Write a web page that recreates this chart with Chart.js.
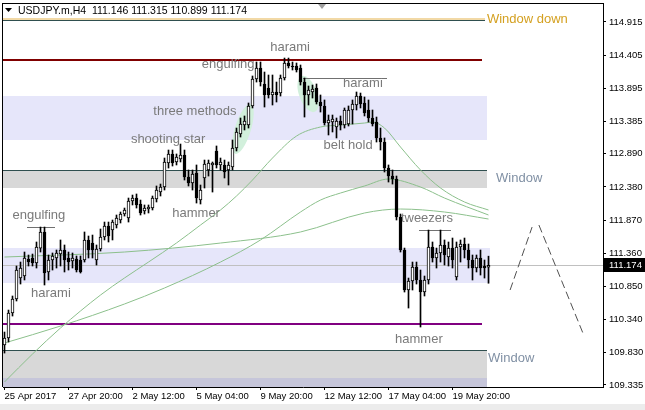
<!DOCTYPE html>
<html>
<head>
<meta charset="utf-8">
<script src="https://cdn.jsdelivr.net/npm/chart.js@4.4.0/dist/chart.umd.min.js"></script>
<style>
  html, body { margin: 0; padding: 0; background: #fff; }
  canvas { display: block; }
</style>
</head>
<body>
<canvas id="chart" width="645" height="410"></canvas>
<script>
// USDJPY.m H4 candles (bar 0 = first visible bar)
const opens = [109.949,110.057,110.441,110.657,110.979,111.010,111.271,111.287,111.210,111.440,
  111.687,111.072,111.256,111.287,111.348,111.410,111.287,111.241,111.271,111.256,
  111.256,111.564,111.517,111.256,111.425,111.610,111.779,111.717,111.794,111.871,
  111.963,111.902,112.163,112.209,112.117,112.009,112.040,112.055,112.194,112.301,
  112.378,112.747,112.886,112.763,112.809,112.870,112.532,112.440,112.594,112.178,
  112.517,112.640,112.717,112.932,112.717,112.717,112.640,112.686,112.978,113.193,
  113.331,113.331,113.624,114.039,114.208,113.962,113.900,113.793,113.839,113.823,
  114.054,114.285,114.238,114.238,114.208,113.992,113.793,113.839,113.900,113.685,
  113.624,113.362,113.377,113.301,113.393,113.331,113.347,113.562,113.639,113.777,
  113.670,113.562,113.439,113.377,113.132,113.070,112.670,112.547,112.501,111.917,
  111.410,110.795,110.933,111.148,110.949,110.764,110.949,111.456,111.287,111.364,
  111.487,111.302,111.440,110.995,111.456,111.502,111.410,111.256,111.133,111.287,
  111.164,111.146];
const highs = [110.149,110.487,110.703,111.164,111.225,111.379,111.333,111.348,111.533,111.763,
  111.763,111.333,111.364,111.410,111.564,111.487,111.379,111.364,111.318,111.318,
  111.687,111.625,111.640,111.487,111.733,111.840,111.840,111.871,111.948,111.994,
  112.055,112.209,112.255,112.271,112.178,112.102,112.102,112.240,112.394,112.424,
  112.824,112.947,112.947,112.886,113.039,112.947,112.640,112.640,112.717,112.409,
  112.793,112.793,112.763,113.009,112.824,112.793,112.763,113.101,113.285,113.439,
  113.470,113.670,114.085,114.300,114.300,114.146,114.100,114.100,113.992,114.100,
  114.361,114.361,114.300,114.285,114.254,114.054,113.931,113.946,113.962,113.793,
  113.716,113.485,113.485,113.439,113.470,113.593,113.624,113.716,113.839,113.823,
  113.762,113.716,113.562,113.454,113.285,113.132,112.717,112.640,112.547,111.963,
  111.440,110.979,111.225,111.225,111.102,111.010,111.717,111.533,111.440,111.717,
  111.564,111.533,111.594,111.533,111.564,111.594,111.502,111.333,111.333,111.410,
  111.256,111.315];
const lows = [109.826,109.995,110.395,110.626,110.887,110.949,111.164,111.164,111.133,111.379,
  110.872,110.949,111.102,111.133,111.164,111.072,111.102,111.133,111.072,111.056,
  111.225,111.287,111.287,111.179,111.394,111.564,111.533,111.564,111.748,111.825,
  111.932,111.840,112.102,112.055,111.948,111.963,111.979,112.025,112.148,112.240,
  112.332,112.670,112.701,112.717,112.763,112.486,112.394,112.332,112.132,112.117,
  112.363,112.547,112.301,112.670,112.640,112.517,112.409,112.640,112.932,113.147,
  113.255,113.285,113.593,113.992,113.931,113.608,113.746,113.639,113.685,113.777,
  114.023,114.208,114.177,114.146,113.946,113.454,113.639,113.746,113.654,113.531,
  113.331,113.178,113.224,113.132,113.255,113.285,113.316,113.347,113.562,113.593,
  113.470,113.377,113.316,113.070,112.947,112.609,112.455,112.424,111.871,111.379,
  110.764,110.518,110.795,110.887,110.226,110.703,110.887,111.225,111.133,111.225,
  111.179,111.164,111.133,110.949,111.225,111.287,111.133,110.949,111.072,111.025,
  110.979,110.899];
const closes = [110.057,110.441,110.657,111.102,111.133,111.287,111.225,111.210,111.456,111.687,
  111.056,111.256,111.318,111.364,111.410,111.256,111.225,111.287,111.102,111.072,
  111.564,111.410,111.410,111.425,111.610,111.779,111.625,111.840,111.902,111.963,
  112.025,112.163,112.209,112.102,111.979,112.055,112.071,112.209,112.332,112.378,
  112.763,112.886,112.747,112.839,112.870,112.532,112.440,112.578,112.209,112.332,
  112.732,112.747,112.747,112.717,112.763,112.609,112.717,112.978,113.224,113.347,
  113.393,113.624,114.039,114.208,113.992,113.793,113.793,113.839,113.793,114.054,
  114.285,114.238,114.223,114.177,113.992,113.793,113.869,113.885,113.685,113.624,
  113.362,113.408,113.424,113.393,113.331,113.562,113.562,113.654,113.777,113.654,
  113.516,113.439,113.347,113.132,113.070,112.670,112.547,112.501,111.917,111.410,
  110.795,110.933,111.148,110.949,110.764,110.949,111.456,111.287,111.364,111.487,
  111.333,111.440,111.256,111.456,111.502,111.410,111.256,111.133,111.287,111.133,
  111.133,111.174];

const symbolName = "USDJPY.m,H4";
const timeTickBars = [0, 16, 32, 48, 64, 80, 96, 112];
const timeLabels = ["25 Apr 2017", "27 Apr 20:00", "2 May 12:00", "5 May 04:00",
  "9 May 20:00", "12 May 12:00", "17 May 04:00", "19 May 20:00"];
const priceTicks = [114.915, 114.405, 113.895, 113.385, 112.890, 112.380,
  111.870, 111.360, 110.850, 110.340, 109.830, 109.335];

// moving averages, sampled at bar positions
const maFastBars = [0,7,14,24,30,36,43,49,54,58,62,67,73,79,84,90,92,95,99,104,109,115,121];
const maFastValues = [109.381,109.811,110.211,110.718,110.980,111.225,111.518,111.794,112.025,112.240,
  112.486,112.824,113.162,113.301,113.331,113.362,113.377,113.285,112.993,112.640,112.363,112.148,112.025];
const maMidBars = [0,14,30,40,54,64,74,79,84,90,96,104,110,121];
const maMidValues = [109.980,110.241,110.580,110.826,111.225,111.564,111.994,112.178,112.286,112.394,
  112.501,112.378,112.209,111.948];
const maSlowBars = [0,30,54,74,90,99,110,121];
const maSlowValues = [111.302,111.379,111.517,111.687,111.979,112.040,111.994,111.886];

// analysis objects
const zoneTops = [113.777, 112.640, 111.440, 109.872, 109.442];
const zoneBottoms = [113.101, 112.363, 110.902, 109.000, 109.000];
const zoneEndBars = [120.6, 120.6, 121.4, 120.6, 120.6];
const windowLevels = [112.640, 109.872];
const resistLevel = 114.331;
const supportLevel = 110.272;
const windowDownLevel = 114.961;
const segPrices = [114.054, 111.717, 111.763];
const segStartBars = [74.6, 103.6, 5.6];
const segEndBars = [95.6, 111.6, 12.6];
const ovalBars = [59.6, 75.9];
const ovalPrices = [113.270, 113.808];
const tentLeftBars = [126.4, 131.9];
const tentLeftPrices = [110.795, 111.763];
const tentRightBars = [133.6, 144.6];
const tentRightPrices = [111.794, 110.134];
const noteTexts = ["harami", "engulfing", "harami", "three methods", "shooting star", "belt hold",
  "hammer", "tweezers", "engulfing", "harami", "hammer"];
const noteBars = [71.4, 55.9, 89.6, 47.6, 40.9, 85.9, 47.9, 105.6, 8.6, 11.6, 103.6];
const notePrices = [114.530, 114.269, 113.977, 113.547, 113.116, 113.024, 111.979, 111.902, 111.948, 110.749, 110.042];
const windowTexts = ["Window", "Window", "Window down"];
const windowTextBars = [122.9, 120.9, 120.6];
const windowTextPrices = [112.517, 109.750, 114.961];

const last = closes.length - 1;
const pts = (xs, ys) => xs.map((b, i) => ({ x: b, y: ys[i] }));

const overlay = {
    id: "overlay",
    beforeDatasetsDraw(chart) {
        const { ctx, chartArea: a, scales: { x, y } } = chart;
        ctx.save();
        ctx.beginPath();
        ctx.rect(a.left, a.top, a.right - a.left, a.bottom - a.top);
        ctx.clip();

        const zoneFill = ["#e6e6fa", "#d8d8d8", "#e6e6fa", "#d8d8d8", "#c6c6da"];
        zoneTops.forEach((top, k) => {
            const y1 = Math.round(y.getPixelForValue(top));
            const y2 = Math.round(y.getPixelForValue(zoneBottoms[k]));
            const x2 = Math.round(x.getPixelForValue(zoneEndBars[k]));
            ctx.fillStyle = zoneFill[k];
            ctx.fillRect(a.left, y1, x2 - a.left, y2 - y1);
        });
        ctx.fillStyle = "#2f4f4f";
        windowLevels.forEach(v => {
            ctx.fillRect(a.left, Math.round(y.getPixelForValue(v)), Math.round(x.getPixelForValue(120.6)) - a.left, 1);
        });

        // window down
        const wy = Math.round(y.getPixelForValue(windowDownLevel));
        const wx = Math.round(x.getPixelForValue(120.2));
        ctx.fillStyle = "#f2d9a6";
        ctx.fillRect(a.left, wy - 1, wx - a.left, 2);
        ctx.fillStyle = "#2f4f4f";
        ctx.fillRect(a.left, wy + 1, wx - a.left, 1);

        // levels
        const lx = Math.round(x.getPixelForValue(119.4));
        ctx.fillStyle = "#800000";
        ctx.fillRect(a.left, Math.round(y.getPixelForValue(resistLevel)) - 1, lx - a.left, 2);
        ctx.fillStyle = "#800080";
        ctx.fillRect(a.left, Math.round(y.getPixelForValue(supportLevel)) - 1, lx - a.left, 2);

        // ovals
        ctx.fillStyle = "#d2f0dc";
        const ovalShape = [[8, 26, 0.3], [9, 19, -0.35]];
        ovalBars.forEach((b, k) => {
            ctx.beginPath();
            ctx.ellipse(x.getPixelForValue(b), y.getPixelForValue(ovalPrices[k]),
                ovalShape[k][0], ovalShape[k][1], ovalShape[k][2], 0, Math.PI * 2);
            ctx.fill();
        });

        // pattern segments
        ctx.fillStyle = "#707070";
        segPrices.forEach((p, k) => {
            const x1 = Math.round(x.getPixelForValue(segStartBars[k]));
            const x2 = Math.round(x.getPixelForValue(segEndBars[k]));
            ctx.fillRect(x1, Math.round(y.getPixelForValue(p)), x2 - x1, 1);
        });

        // bid line
        ctx.fillStyle = "#c0c0c0";
        ctx.fillRect(a.left, Math.round(y.getPixelForValue(closes[last])), a.right - a.left, 1);
        ctx.restore();
    },
    afterDatasetsDraw(chart) {
        const { ctx, chartArea: a, scales: { x, y } } = chart;
        ctx.save();
        ctx.font = '13px "Liberation Sans", Arial, sans-serif';
        ctx.textBaseline = "middle";
        ctx.textAlign = "center";
        ctx.fillStyle = "#7a7a7a";
        noteTexts.forEach((t, k) => {
            ctx.fillText(t, x.getPixelForValue(noteBars[k]), y.getPixelForValue(notePrices[k]));
        });
        ctx.textAlign = "left";
        windowTexts.forEach((t, k) => {
            ctx.fillStyle = k === 2 ? "#d4a020" : "#8090a4";
            ctx.fillText(t, x.getPixelForValue(windowTextBars[k]), y.getPixelForValue(windowTextPrices[k]));
        });

        // frame
        ctx.fillStyle = "#000";
        ctx.fillRect(a.left - 1, a.top, 1, a.bottom - a.top);
        ctx.fillRect(a.left - 1, a.top, a.right - a.left + 1, 1);

        // title
        ctx.beginPath();
        ctx.moveTo(5, 8); ctx.lineTo(12, 8); ctx.lineTo(8.5, 12); ctx.closePath();
        ctx.fill();
        ctx.font = '10.5px "Liberation Sans", Arial, sans-serif';
        ctx.fillText(symbolName + "  " + [opens[last], highs[last], lows[last], closes[last]]
            .map(v => v.toFixed(3)).join(" "), 18, 11);

        // shift marker
        ctx.fillStyle = "#a0a0a0";
        ctx.beginPath();
        ctx.moveTo(318, 4); ctx.lineTo(326, 4); ctx.lineTo(322, 9); ctx.closePath();
        ctx.fill();

        // price box
        const py = Math.round(y.getPixelForValue(closes[last]));
        ctx.fillStyle = "#000";
        ctx.fillRect(a.right + 1, py - 7, 41, 14);
        ctx.fillStyle = "#fff";
        ctx.font = '9.5px "Liberation Sans", Arial, sans-serif';
        ctx.fillText(closes[last].toFixed(3), a.right + 6, py);

        // status strip
        ctx.fillStyle = "#ececec";
        ctx.fillRect(0, 404, 645, 6);
        ctx.restore();
    }
};

const axisFont = { family: '"Liberation Sans", Arial, sans-serif', size: 9.5 };

new Chart(document.getElementById("chart"), {
    type: "bar",
    data: {
        datasets: [
            {
                label: "body",
                data: opens.map((o, i) => ({ x: i, y: [o, closes[i]] })),
                backgroundColor: opens.map((o, i) => closes[i] >= o ? "#ffffff" : "#000000"),
                borderColor: "#000000",
                borderWidth: 1,
                borderSkipped: false,
                barThickness: 3,
                grouped: false,
                order: 0
            },
            {
                label: "wick",
                data: lows.map((l, i) => ({ x: i, y: [l, highs[i]] })),
                backgroundColor: "#000000",
                borderWidth: 0,
                barThickness: 1,
                grouped: false,
                order: 1
            },
            {
                type: "line", label: "MA fast", data: pts(maFastBars, maFastValues),
                borderColor: "#8cc08c", borderWidth: 1, pointRadius: 0,
                cubicInterpolationMode: "monotone", order: 2
            },
            {
                type: "line", label: "MA mid", data: pts(maMidBars, maMidValues),
                borderColor: "#8cc08c", borderWidth: 1, pointRadius: 0,
                cubicInterpolationMode: "monotone", order: 2
            },
            {
                type: "line", label: "MA slow", data: pts(maSlowBars, maSlowValues),
                borderColor: "#8cc08c", borderWidth: 1, pointRadius: 0,
                cubicInterpolationMode: "monotone", order: 2
            },
            {
                type: "line", label: "tent left", data: pts(tentLeftBars, tentLeftPrices),
                borderColor: "#505050", borderWidth: 1, borderDash: [8, 4], pointRadius: 0, order: 3
            },
            {
                type: "line", label: "tent right", data: pts(tentRightBars, tentRightPrices),
                borderColor: "#505050", borderWidth: 1, borderDash: [8, 4], pointRadius: 0, order: 3
            }
        ]
    },
    options: {
        responsive: false,
        animation: false,
        devicePixelRatio: 1,
        events: [],
        layout: { padding: { left: 3, top: 3, right: 0, bottom: 0 } },
        plugins: { legend: { display: false }, tooltip: { enabled: false } },
        scales: {
            x: {
                type: "linear",
                position: "bottom",
                min: -0.375,
                max: 149.625,
                offset: false,
                afterBuildTicks: s => { s.ticks = timeTickBars.map(v => ({ value: v })); },
                afterFit: s => { s.height = 23; s.paddingLeft = 0; s.paddingRight = 0; },
                ticks: {
                    autoSkip: false, maxRotation: 0, align: "start", padding: 1,
                    color: "#000", font: axisFont,
                    callback: (v, idx) => timeLabels[idx]
                },
                grid: { drawOnChartArea: false, drawTicks: true, tickLength: 3, color: "#000", offset: false },
                border: { display: true, color: "#000" }
            },
            y: {
                type: "linear",
                position: "right",
                min: 109.304,
                max: 115.207,
                afterBuildTicks: s => { s.ticks = priceTicks.map(v => ({ value: v })); },
                afterFit: s => { s.width = 42; s.paddingTop = 0; s.paddingBottom = 0; },
                ticks: {
                    autoSkip: false, padding: 3, color: "#000", font: axisFont,
                    callback: v => v.toFixed(3)
                },
                grid: { drawOnChartArea: false, drawTicks: true, tickLength: 3, color: "#000" },
                border: { display: true, color: "#000" }
            }
        }
    },
    plugins: [overlay]
});
</script>
</body>
</html>
